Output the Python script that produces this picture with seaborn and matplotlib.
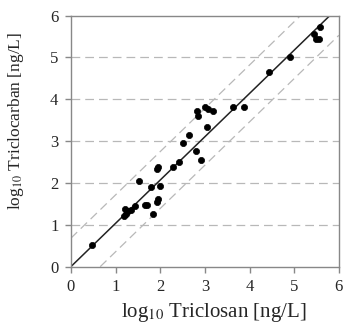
import numpy as np
import pandas as pd
import matplotlib
matplotlib.use("Agg")
import matplotlib.pyplot as plt
import seaborn as sns

# log10 concentrations
triclosan = [0.48, 1.19, 1.21, 1.24, 1.29, 1.34, 1.43, 1.52, 1.65, 1.71,
             1.83, 1.80, 1.92, 1.95, 1.99, 1.93, 1.94, 2.29, 2.41, 2.50,
             2.65, 2.81, 2.91, 2.83, 2.85, 3.00, 3.07, 3.19, 3.05, 3.64,
             3.87, 4.43, 4.90, 5.45, 5.49, 5.55, 5.57]
triclocarban = [0.52, 1.22, 1.39, 1.27, 1.33, 1.35, 1.45, 2.05, 1.47, 1.47,
                1.27, 1.91, 1.54, 1.61, 1.94, 2.33, 2.39, 2.39, 2.49, 2.96,
                3.15, 2.77, 2.55, 3.73, 3.60, 3.82, 3.76, 3.72, 3.35, 3.82,
                3.82, 4.66, 5.00, 5.55, 5.43, 5.43, 5.74]

fit_slope = 1.035
band = 0.68
ticks = [0, 1, 2, 3, 4, 5, 6]

df = pd.DataFrame({"tcs": triclosan, "tcc": triclocarban})

sns.set_style("white")
plt.rcParams["font.family"] = ["Liberation Serif", "DejaVu Serif"]
plt.rcParams["mathtext.fontset"] = "stix"

fig = plt.figure(figsize=(3.44, 3.26), dpi=100)
ax = fig.add_axes([0.206, 0.182, 0.779, 0.770])

for yv in ticks[1:-1]:
    ax.axhline(yv, color="#b8b8b8", lw=0.9, ls=(0, (7, 4)), zorder=1)

ax.axline((0, band), slope=fit_slope, color="#b8b8b8", lw=0.9, ls=(0, (7, 4)), zorder=1)
ax.axline((0, -band), slope=fit_slope, color="#b8b8b8", lw=0.9, ls=(0, (7, 4)), zorder=1)
ax.axline((0, 0), slope=fit_slope, color="#222222", lw=1.1, zorder=2)

sns.scatterplot(data=df, x="tcs", y="tcc", ax=ax, color="black",
                s=20, edgecolor="black", linewidth=0.5, zorder=3, legend=False)

ax.set_xlim(0, 6)
ax.set_ylim(0, 6)
ax.set_xticks(ticks)
ax.set_yticks(ticks)
for sp in ax.spines.values():
    sp.set_color("#888888")
    sp.set_linewidth(1.0)
ax.tick_params(direction="out", length=4, width=1, color="#888888",
               labelsize=12, pad=5, bottom=True, left=True)
ax.set_xlabel(r"log$_{10}$ Triclosan [ng/L]", fontsize=15)
ax.set_ylabel(r"log$_{10}$ Triclocarban [ng/L]", fontsize=12.5)
ax.xaxis.set_label_coords(0.534, -0.135)
ax.yaxis.set_label_coords(-0.168, 0.58)

fig.savefig("out.png", dpi=100)
